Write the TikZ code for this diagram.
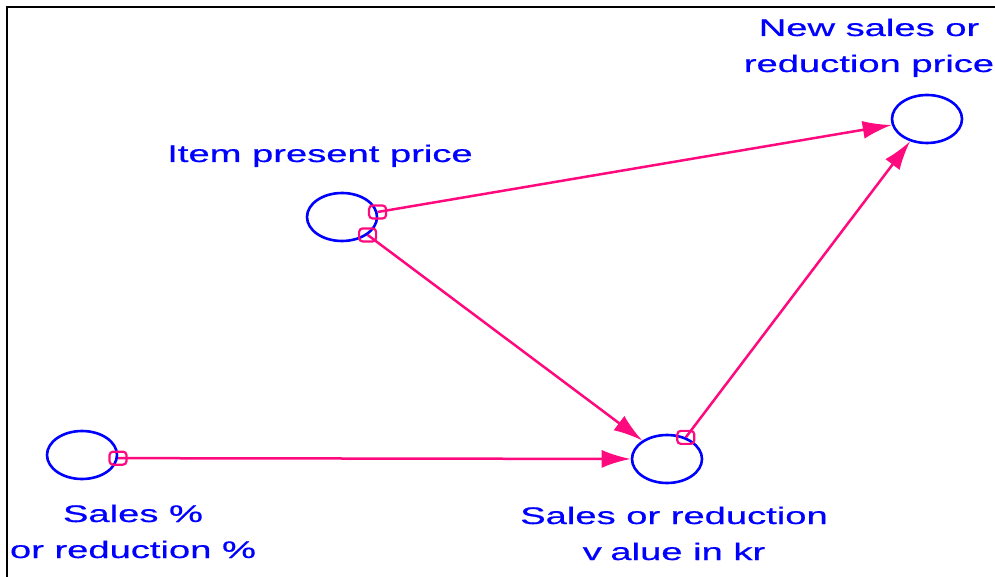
\documentclass[tikz,border=0pt]{standalone}
\usepackage{fontspec}
\usetikzlibrary{arrows.meta,shapes.geometric}
\newfontfamily\lblfont[FakeStretch=1.59, FakeBold=0.6]{Liberation Sans}
\definecolor{varblue}{HTML}{0000FF}
\definecolor{linkpink}{HTML}{FF0A7E}
\tikzset{
  var/.style   = {draw=varblue, line width=2.6pt, ellipse, minimum width=70pt,
                  minimum height=48pt, inner sep=0pt},
  tap/.style   = {draw=linkpink, line width=2.2pt, rounded corners=3.5pt,
                  minimum width=17pt, minimum height=13pt, inner sep=0pt},
  link/.style  = {-{Latex[length=29pt, width=18pt]}, draw=linkpink, line width=2.5pt},
  frame/.style = {line width=2.3pt},
  lbl/.style   = {font=\lblfont\fontsize{24}{36}\selectfont, text=varblue,
                  align=center, inner sep=0pt, anchor=base},
}
\begin{document}
\begin{tikzpicture}[x=1pt, y=-1pt]
  \useasboundingbox (0,0) rectangle (995,577);
  \draw[frame] (7,577) -- (7,7) -- (995,7);
  % stocks
  \node[var] (item) at (342,217) {};
  \node[var] (newp) at (927,119) {};
  \node[var] (pct)  at (82,455)  {};
  \node[var] (val)  at (667,459) {};
  % labels (base = last line)
  \node[lbl] (itemlbl) at (320,162) {Item present price};
  \node[lbl] (newplbl) at (869,72)  {New sales or\\reduction price};
  \node[lbl] (pctlbl)  at (133,558) {Sales \%\\or reduction \%};
  \node[lbl] (vallbl)  at (674,560) {Sales or reduction\\v\kern-2pt{} alue in kr};
  % taps
  \node[tap] (itemtapa) at (item.8)   {};
  \node[tap] (itemtapb) at (item.-35) {};
  \node[tap] (pcttap)   at (pct.-5)   {};
  \node[tap] (valtap)   at (val.49)   {};
  % links
  \draw[link] (itemtapa.center) -- (newp);
  \draw[link] (itemtapb.center) -- (val);
  \draw[link] (pcttap.center) -- (val);
  \draw[link] (valtap.center) -- (newp);
\end{tikzpicture}
\end{document}
